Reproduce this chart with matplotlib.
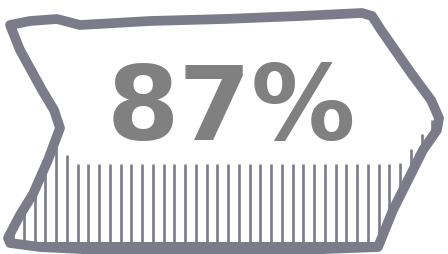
import numpy as np
import matplotlib.pyplot as plt
from matplotlib.patches import Polygon

# data
value = 87
label = f"{value}%"

edge_col = '#7b7b8a'
text_col = '#808080'

# arrow outline (image pixel coords, y down)
outline_x = [10, 30, 57, 80, 150, 224, 300, 362, 372, 381, 411, 431, 439, 437,
             423, 393, 378, 300, 200, 100, 40, 10, 8, 20, 33, 48, 60,
             54, 42, 20, 10]
outline_y = [25, 21, 19, 25, 21, 19, 16, 13, 16, 30, 73, 100, 118, 130,
             150, 210, 247, 250, 251, 250, 247, 243, 238, 215, 194, 160, 128,
             110, 90, 50, 25]

# top of the hatched band
band_x = [0, 60, 74, 395, 402, 430, 448]
band_y = [140, 146, 164, 164, 162, 122, 110]

fig = plt.figure(figsize=(4.48, 2.54), dpi=100)
ax = fig.add_axes([0, 0, 1, 1])
ax.set_xlim(0, 448)
ax.set_ylim(254, 0)
ax.axis('off')

shape = Polygon(np.column_stack([outline_x, outline_y]), closed=True,
                facecolor='none', edgecolor='none')
ax.add_patch(shape)

xs = np.arange(2.45, 448, 10.75)
tops = np.interp(xs, band_x, band_y)
lines = ax.vlines(xs, tops, 254, color=edge_col, linewidth=1.9)
lines.set_clip_path(shape)

# solid strip along the bottom
bottom = Polygon(np.column_stack([[0, 448, 448, 0], [242, 242, 254, 254]]),
                 closed=True, facecolor=edge_col, edgecolor='none')
ax.add_patch(bottom)
bottom.set_clip_path(shape)

ax.add_patch(Polygon(np.column_stack([outline_x, outline_y]), closed=True,
                     facecolor='none', edgecolor=edge_col, linewidth=7,
                     joinstyle='round'))

ax.text(231.5, 140, label, ha='center', va='baseline', fontsize=75,
        fontfamily='DejaVu Sans', fontweight='bold', color=text_col)

fig.savefig('out.png', dpi=100)
